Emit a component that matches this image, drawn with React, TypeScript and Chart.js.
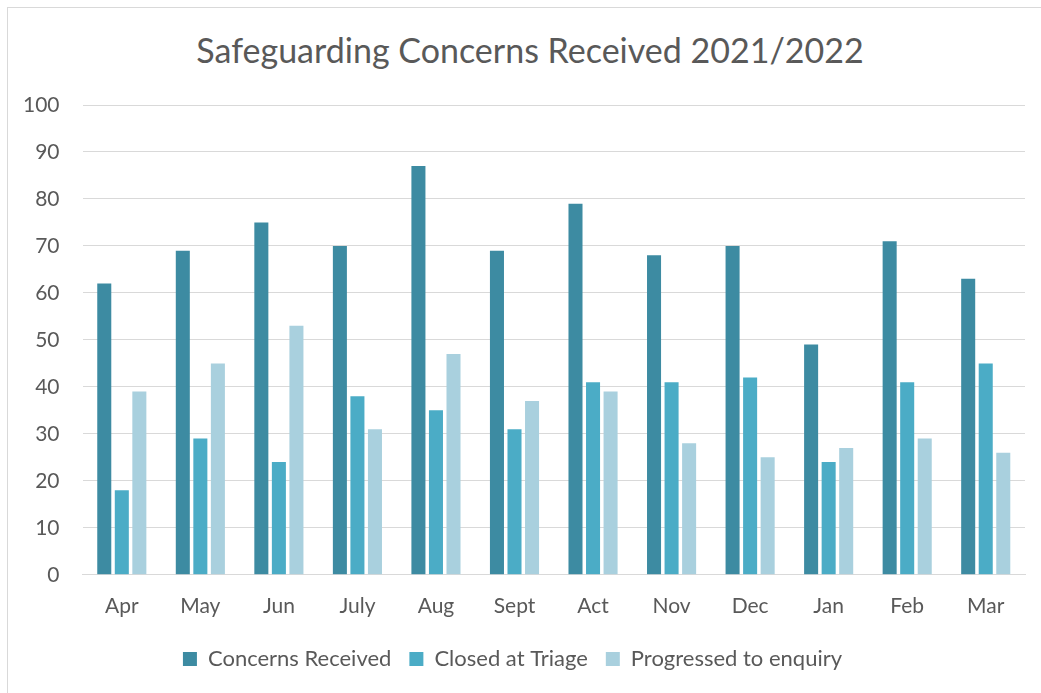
import React, { useEffect, useRef } from "react";
import { Chart, registerables } from "chart.js";

Chart.register(...registerables);

const months = ["Apr", "May", "Jun", "July", "Aug", "Sept", "Act", "Nov", "Dec", "Jan", "Feb", "Mar"];
const concernsReceived = [62, 69, 75, 70, 87, 69, 79, 68, 70, 49, 71, 63];
const closedAtTriage = [18, 29, 24, 38, 35, 31, 41, 41, 42, 24, 41, 45];
const progressedToEnquiry = [39, 45, 53, 31, 47, 37, 39, 28, 25, 27, 29, 26];
const chartTitle = "Safeguarding Concerns Received 2021/2022";

const FONT = "Lato, 'Open Sans', sans-serif";

export default function App() {
  const ref = useRef<HTMLCanvasElement>(null);
  useEffect(() => {
    if (!ref.current) return;
    const mk = (label: string, data: number[], color: string) => ({
      label,
      data,
      backgroundColor: color,
      borderWidth: 0,
      categoryPercentage: 0.67,
      barPercentage: 0.8,
    });
    const chart = new Chart(ref.current, {
      type: "bar",
      data: {
        labels: months,
        datasets: [
          mk("Concerns Received", concernsReceived, "#3d8ba2"),
          mk("Closed at Triage", closedAtTriage, "#4bacc6"),
          mk("Progressed to enquiry", progressedToEnquiry, "#a9d0de"),
        ],
      },
      options: {
        animation: false,
        responsive: false,
        maintainAspectRatio: false,
        layout: { padding: { left: 0, right: 16, top: 105, bottom: 13 } },
        plugins: {
          title: { display: false },
          legend: {
            position: "bottom",
            labels: {
              color: "#595959",
              font: { family: FONT, size: 22 },
              boxWidth: 14,
              boxHeight: 14,
              padding: 18,
            },
          },
          tooltip: { enabled: false },
        },
        scales: {
          x: {
            grid: { display: false },
            border: { display: true, color: "#d9d9d9", width: 1 },
            ticks: { color: "#595959", font: { family: FONT, size: 21 }, padding: 11 },
          },
          y: {
            min: 0,
            max: 100,
            ticks: { stepSize: 10, color: "#595959", font: { family: FONT, size: 21 }, padding: 23 },
            grid: { color: "#d9d9d9", drawTicks: false },
            border: { display: false },
          },
        },
      },
    });
    return () => chart.destroy();
  }, []);
  return (
    <div style={{ position: "fixed", left: 0, top: 0, width: 1041, height: 693, background: "#fff" }}>
      <div style={{ position: "absolute", left: 7, top: 7, width: 1040, height: 690, border: "1px solid #d9d9d9" }} />
      <div
        style={{
          position: "absolute",
          left: 30,
          width: 1000,
          top: 29,
          textAlign: "center",
          fontFamily: FONT,
          fontSize: 34,
          lineHeight: "42px",
          color: "#595959",
          whiteSpace: "nowrap",
        }}
      >
        {chartTitle}
      </div>
      <canvas ref={ref} width={1041} height={693} style={{ position: "absolute", left: 0, top: 0 }} />
    </div>
  );
}
